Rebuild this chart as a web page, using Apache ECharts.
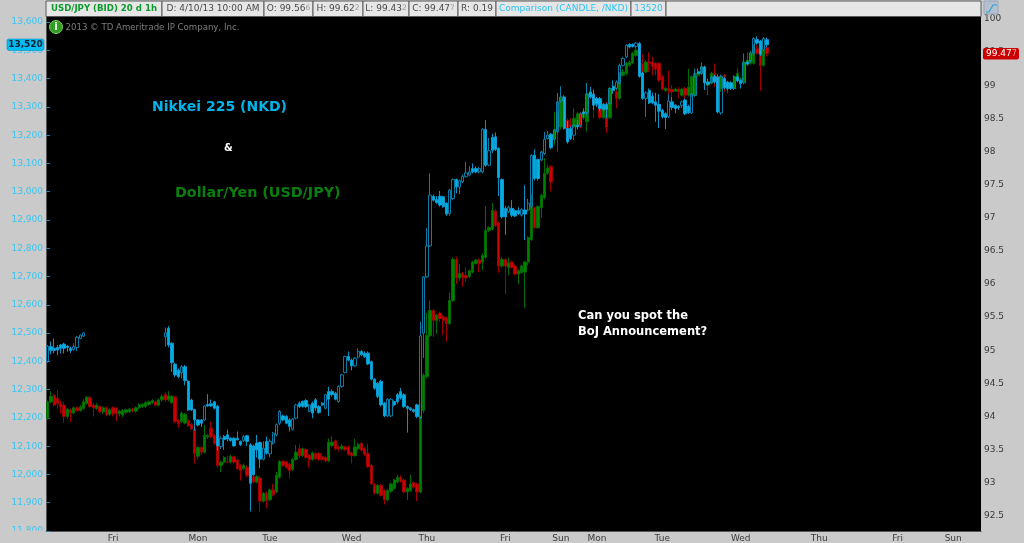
<!DOCTYPE html>
<html><head><meta charset="utf-8">
<style>html,body{margin:0;padding:0;background:#cacaca}#c{width:1024px;height:543px}</style>
<script src="https://cdn.jsdelivr.net/npm/echarts@6/dist/echarts.min.js"></script>
</head><body><div id="c"></div>
<script>
// [open, close, low, high]
const usdJpyCandles = [
[93.97,94.22,93.95,94.24],[94.22,94.30,94.20,94.38],[94.32,94.17,94.15,94.34],[94.27,94.19,94.12,94.40],[94.20,94.14,94.04,94.24],[94.17,94.00,93.90,94.22],[94.00,94.11,93.97,94.13],[94.10,94.05,93.92,94.12],[94.05,94.13,94.03,94.15],[94.13,94.09,94.07,94.15],
[94.09,94.14,94.07,94.17],[94.12,94.22,94.10,94.26],[94.20,94.29,94.18,94.31],[94.28,94.15,94.13,94.31],[94.17,94.13,94.00,94.20],[94.12,94.17,94.10,94.20],[94.15,94.07,94.05,94.17],[94.07,94.13,94.04,94.15],[94.13,94.03,94.00,94.15],[94.03,94.10,94.01,94.12],
[94.13,94.04,94.00,94.15],[94.12,94.04,93.93,94.14],[94.04,94.08,94.00,94.10],[94.02,94.09,93.99,94.11],[94.06,94.10,94.04,94.12],[94.07,94.11,94.05,94.13],[94.11,94.08,94.06,94.13],[94.08,94.13,94.06,94.15],[94.13,94.18,94.11,94.20],[94.15,94.18,94.13,94.20],
[94.15,94.21,94.13,94.23],[94.18,94.22,94.16,94.24],[94.21,94.24,94.19,94.26],[94.22,94.17,94.15,94.24],[94.17,94.25,94.15,94.27],[94.25,94.30,94.23,94.33],[94.33,94.25,94.22,94.36],[94.25,94.31,94.23,94.38],[94.21,94.30,94.19,94.32],[94.29,93.92,93.90,94.31],
[93.94,93.89,93.83,93.96],[93.92,94.05,93.90,94.07],[93.90,94.03,93.88,94.05],[93.94,93.86,93.84,93.97],[93.88,93.81,93.79,93.90],[93.81,93.44,93.29,93.84],[93.40,93.53,93.36,93.55],[93.53,93.46,93.42,93.55],[93.46,93.71,93.44,93.87],[93.69,93.71,93.66,93.73],
[93.82,93.69,93.67,93.92],[93.71,93.59,93.57,93.73],[93.56,93.26,93.22,93.58],[93.26,93.31,93.16,93.33],[93.31,93.38,93.29,93.40],[93.31,93.31,93.29,93.40],[93.31,93.40,93.29,93.42],[93.39,93.31,93.29,93.41],[93.34,93.21,93.19,93.36],[93.26,93.18,93.03,93.28],
[93.21,93.26,93.19,93.29],[93.23,93.11,93.08,93.26],[93.19,93.06,93.04,93.21],[93.09,93.01,92.99,93.11],[93.01,93.09,92.99,93.11],[93.07,92.72,92.56,93.09],[92.72,92.84,92.70,92.86],[92.84,92.73,92.61,92.87],[92.74,92.89,92.72,92.91],[92.89,92.82,92.79,92.98],
[92.86,93.11,92.84,93.16],[93.08,93.32,93.06,93.34],[93.32,93.26,93.24,93.34],[93.31,93.23,93.21,93.33],[93.28,93.18,93.06,93.30],[93.20,93.35,93.18,93.37],[93.35,93.46,93.33,93.57],[93.51,93.41,93.37,93.58],[93.41,93.51,93.39,93.53],[93.50,93.38,93.36,93.52],
[93.41,93.35,93.23,93.43],[93.35,93.45,93.33,93.47],[93.44,93.36,93.34,93.46],[93.44,93.35,93.33,93.46],[93.39,93.35,93.33,93.44],[93.38,93.33,93.31,93.40],[93.33,93.61,93.31,93.67],[93.56,93.61,93.54,93.70],[93.63,93.51,93.49,93.65],[93.54,93.51,93.47,93.56],
[93.51,93.55,93.49,93.58],[93.54,93.50,93.48,93.56],[93.54,93.43,93.41,93.56],[93.45,93.41,93.29,93.47],[93.41,93.54,93.39,93.66],[93.51,93.58,93.49,93.60],[93.59,93.49,93.47,93.61],[93.51,93.43,93.40,93.53],[93.44,93.24,93.22,93.59],[93.26,92.98,92.96,93.28],
[92.97,92.84,92.82,92.99],[92.84,92.96,92.82,92.98],[92.96,92.81,92.79,92.98],[92.88,92.74,92.67,92.90],[92.74,92.88,92.72,92.90],[92.87,92.98,92.85,93.00],[92.91,93.04,92.89,93.06],[93.01,93.08,92.99,93.12],[93.08,93.02,93.00,93.11],[93.04,92.86,92.84,93.06],
[92.86,92.91,92.74,92.93],[92.88,92.98,92.86,93.12],[93.00,92.93,92.91,93.02],[92.98,92.86,92.72,93.00],[92.86,93.99,92.84,94.01],[94.09,94.62,94.05,94.65],[94.60,95.22,94.57,95.56],[95.22,95.60,95.20,95.75],[95.60,95.45,95.20,95.62],[95.45,95.53,95.25,95.55],
[95.56,95.48,95.43,95.58],[95.50,95.45,95.23,95.53],[95.49,95.40,95.13,95.51],[95.40,95.75,95.38,95.87],[95.75,96.37,95.73,96.40],[96.37,96.09,96.00,96.41],[96.09,96.16,96.05,96.30],[96.16,96.10,95.96,96.18],[96.13,96.09,96.03,96.25],[96.11,96.20,96.09,96.22],
[96.18,96.33,96.16,96.35],[96.31,96.36,96.29,96.38],[96.36,96.31,96.18,96.38],[96.33,96.43,96.21,96.46],[96.40,96.81,96.38,97.17],[96.81,96.85,96.78,96.87],[96.83,97.11,96.81,97.22],[97.10,96.88,96.86,97.13],[96.92,96.27,96.17,96.94],[96.27,96.37,96.25,96.40],
[96.37,96.27,95.84,96.39],[96.25,96.32,96.13,96.40],[96.33,96.25,96.23,96.35],[96.27,96.15,96.13,96.29],[96.15,96.20,96.00,96.22],[96.17,96.27,96.15,96.29],[96.18,96.33,95.64,96.35],[96.33,96.70,96.28,96.72],[96.67,97.16,96.65,97.35],[97.15,96.85,96.83,97.17],
[96.85,97.17,96.83,97.19],[97.15,97.34,97.00,97.36],[97.30,97.67,97.28,97.90],[97.67,97.75,97.65,97.80],[97.77,97.54,97.40,97.79],[98.20,98.33,98.10,98.60],[98.32,98.59,97.99,98.76],[98.37,98.82,98.33,98.85],[98.82,98.47,98.45,98.85],[98.47,98.35,98.30,98.50],
[98.40,98.37,98.30,98.50],[98.37,98.50,98.35,98.65],[98.40,98.57,98.38,98.60],[98.57,98.37,98.35,98.60],[98.51,98.60,98.48,98.65],[98.45,98.87,98.30,98.95],[98.82,98.87,98.80,98.92],[98.87,98.70,98.50,98.95],[98.70,98.80,98.68,98.82],[98.67,98.51,98.49,98.69],
[98.51,98.65,98.49,98.67],[98.62,98.37,98.28,98.75],[98.51,98.95,98.49,98.97],[98.92,98.97,98.90,98.99],[98.90,98.80,98.65,98.97],[98.80,99.18,98.78,99.20],[99.15,99.20,99.13,99.25],[99.18,99.33,99.15,99.35],[99.30,99.35,99.28,99.38],[99.34,99.48,99.32,99.50],
[99.45,99.53,99.43,99.60],[99.62,99.20,99.13,99.66],[99.33,99.20,99.15,99.47],[99.20,99.35,99.18,99.38],[99.35,99.33,99.20,99.50],[99.35,99.28,99.15,99.43],[99.33,99.24,99.15,99.35],[99.33,99.08,99.05,99.35],[99.13,98.94,98.92,99.15],[98.92,98.95,98.90,98.97],
[98.95,98.92,98.80,99.22],[98.94,98.90,98.80,99.00],[98.91,98.94,98.90,98.96],[98.94,98.90,98.80,98.97],[98.85,98.94,98.83,98.96],[98.95,98.85,98.77,98.97],[98.85,98.97,98.83,99.25],[98.85,99.13,98.83,99.15],[98.85,99.18,98.83,99.20],[99.15,99.20,99.13,99.25],
[99.18,99.28,99.16,99.35],[99.28,99.05,99.00,99.30],[99.00,99.05,98.85,99.07],[99.03,99.18,99.01,99.20],[99.18,99.05,98.97,99.33],[99.13,98.95,98.93,99.18],[98.95,99.13,98.90,99.15],[99.15,98.97,98.90,99.17],[98.95,99.03,98.88,99.05],[98.97,99.04,98.95,99.06],
[98.95,99.13,98.93,99.15],[99.10,99.18,99.08,99.25],[99.08,99.10,99.06,99.12],[99.05,99.35,99.03,99.40],[99.33,99.38,99.31,99.50],[99.33,99.48,99.31,99.52],[99.33,99.60,99.31,99.62],[99.55,99.48,99.46,99.70],[99.50,99.30,98.92,99.52],[99.30,99.53,99.28,99.55],
[99.57,99.48,99.43,99.62]
];
const nkdCandlesBeforeGap = [
[12399,12454,12395,12458],[12452,12438,12425,12470],[12446,12438,12428,12481],[12449,12440,12422,12458],[12458,12446,12428,12461],[12461,12446,12428,12466],[12454,12449,12434,12458],[12446,12438,12430,12452],[12442,12452,12438,12464],[12449,12485,12436,12490],[12481,12493,12478,12495],[12489,12501,12487,12503]
];
const nkdGapBars = 24;
const nkdCandlesAfterGap = [
[12487,12501,12452,12520],[12517,12458,12450,12525],[12464,12395,12363,12468],[12390,12352,12345,12395],[12369,12346,12340,12375],[12360,12381,12340,12387],[12381,12332,12315,12387],[12330,12228,12225,12335],[12263,12228,12225,12268],[12230,12193,12155,12232],
[12193,12175,12170,12195],[12193,12181,12168,12195],[12193,12242,12190,12245],[12247,12242,12240,12284],[12250,12242,12240,12265],[12257,12234,12230,12260],[12242,12101,12085,12245],[12099,12128,12090,12135],[12134,12123,12087,12140],[12140,12125,12117,12158],
[12128,12120,12117,12132],[12128,12101,12098,12132],[12128,12123,12120,12152],[12117,12105,12101,12120],[12120,12134,12115,12140],[12137,12117,12101,12140],[12105,11969,11869,12110],[12101,11999,11995,12105],[12111,12087,12060,12140],[12113,12054,12022,12117],
[12054,12093,12050,12117],[12117,12075,12070,12134],[12073,12117,12060,12125],[12111,12146,12105,12150],[12140,12176,12135,12180],[12181,12223,12175,12228],[12207,12193,12188,12212],[12205,12181,12177,12210],[12193,12170,12152,12199],[12160,12196,12155,12200],
[12199,12246,12195,12250],[12252,12240,12235,12258],[12258,12240,12237,12262],[12262,12240,12235,12266],[12223,12246,12220,12250],[12252,12217,12199,12258],[12264,12235,12225,12270],[12240,12219,12215,12245],[12252,12246,12243,12255],[12234,12282,12230,12285],
[12293,12266,12207,12310],[12293,12282,12275,12300],[12287,12266,12262,12292],[12258,12311,12254,12315],[12311,12352,12307,12356],[12361,12417,12357,12420],[12417,12405,12400,12435],[12405,12384,12368,12410],[12384,12411,12380,12416],[12415,12435,12411,12446],
[12435,12423,12418,12440],[12429,12417,12412,12435],[12429,12391,12387,12435],[12399,12337,12333,12403],[12337,12305,12300,12340],[12323,12276,12270,12327],[12329,12246,12240,12335],[12252,12207,12203,12256],[12207,12266,12203,12270],[12207,12266,12203,12270],
[12258,12246,12240,12262],[12282,12258,12250,12288],[12293,12270,12265,12305],[12282,12240,12235,12287],[12240,12234,12148,12244],[12234,12229,12225,12238],[12229,12223,12218,12233],[12246,12205,12199,12250],[12200,12490,12195,12540],[12500,12699,12412,12702],
[12699,12808,12695,12872],[12808,12988,12805,13065],[12984,12970,12965,12990],[12973,12961,12958,12985],[12984,12953,12947,13003],[12982,12947,12943,12986],[12959,12921,12915,12963],[12923,13006,12915,13010],[12976,13043,12970,13047],[13043,13017,12995,13047],
[13017,13039,12992,13043],[13035,13055,13030,13060],[13053,13067,13050,13106],[13059,13070,13055,13090],[13082,13070,13065,13100],[13082,13070,13065,13090],[13070,13082,13065,13088],[13070,13220,13065,13225],[13220,13094,13088,13253],[13094,13145,13090,13190],
[13192,13147,13137,13205],[13194,13149,13144,13210],[13153,13050,12985,13157],[13043,12911,12905,13047],[12941,12911,12847,12950],[12929,12944,12925,12950],[12941,12917,12910,12970],[12933,12914,12910,12938],[12933,12923,12918,12945],[12917,12937,12912,12942],
[12935,12921,12829,13023],[12935,12959,12930,12975],[12947,13129,12941,13133],[13129,13047,13040,13150],[13114,13047,13040,13118],[13112,13141,13108,13145],[13135,13185,13130,13212],[13188,13200,13185,13215],[13203,13156,13150,13208],[13185,13218,13180,13222],
[13212,13318,13205,13350],[13321,13335,13316,13373],[13335,13224,13220,13340],[13224,13176,13170,13250],[13224,13188,13183,13230],[13200,13235,13182,13240],[13235,13229,13220,13253],[13235,13276,13230,13280],[13282,13276,13262,13294],[13279,13345,13270,13385],
[13353,13335,13330,13371],[13345,13306,13290,13360],[13329,13312,13300,13335],[13329,13294,13285,13335],[13309,13291,13286,13314],[13309,13291,13259,13314],[13312,13365,13307,13370],[13373,13359,13347,13394],[13365,13388,13360,13394],[13383,13447,13378,13453],
[13447,13471,13443,13476],[13477,13518,13473,13522],[13521,13512,13507,13525],[13521,13514,13510,13525],[13514,13526,13510,13530],[13524,13408,13403,13528],[13420,13330,13325,13424],[13330,13350,13265,13355],[13359,13314,13310,13365],[13338,13314,13310,13350],
[13318,13306,13247,13350],[13309,13285,13225,13345],[13288,13265,13260,13293],[13276,13262,13222,13281],[13265,13321,13260,13345],[13318,13298,13289,13335],[13306,13294,13278,13310],[13302,13298,13290,13306],[13306,13318,13296,13322],[13324,13276,13271,13330],
[13302,13279,13275,13307],[13279,13345,13275,13350],[13341,13408,13336,13435],[13424,13418,13415,13435],[13418,13441,13414,13455],[13441,13385,13360,13445],[13388,13380,13376,13400],[13385,13406,13382,13412],[13408,13388,13383,13413],[13406,13282,13277,13414],
[13279,13408,13272,13414],[13400,13368,13362,13405],[13388,13365,13360,13392],[13385,13365,13360,13390],[13365,13406,13360,13410],[13406,13392,13387,13411],[13394,13382,13365,13397],[13385,13456,13380,13489],[13459,13451,13446,13464],[13463,13491,13458,13496],
[13489,13542,13484,13547],[13538,13526,13520,13550],[13533,13486,13480,13537],[13503,13542,13498,13547],[13538,13520,13510,13545]
];
const barSlots = 286;
const dayLabels = {20:'Fri',46:'Mon',68:'Tue',93:'Wed',116:'Thu',140:'Fri',157:'Sun',168:'Mon',188:'Tue',212:'Wed',236:'Thu',260:'Fri',277:'Sun'};
const nkdTicks = [11800,11900,12000,12100,12200,12300,12400,12500,12600,12700,12800,12900,13000,13100,13200,13300,13400,13500,13600];
const usdTicks = [92.5,93,93.5,94,94.5,95,95.5,96,96.5,97,97.5,98,98.5,99,99.5,100];
const headerCells = [
 {x:46,w:116,t:'USD/JPY (BID) 20 d 1h',c:'#0d9a2e',b:true},
 {x:162,w:102,t:'D: 4/10/13 10:00 AM'},
 {x:264,w:49,t:'O: 99.56',s:'6'},
 {x:313,w:50,t:'H: 99.62',s:'2'},
 {x:363,w:46,t:'L: 99.43',s:'2'},
 {x:409,w:49,t:'C: 99.47',s:'7'},
 {x:458,w:38,t:'R: 0.19'},
 {x:496,w:135,t:'Comparison (CANDLE, /NKD)',c:'#2cc4f4'},
 {x:631,w:35,t:'13520',c:'#2cc4f4'},
 {x:666,w:315,t:''}
];

const FONT='"DejaVu Sans",sans-serif';
const categories = Array.from({length:barSlots},(_,i)=>String(i));
const blank=['-','-','-','-'];
const nkdAll = nkdCandlesBeforeGap.concat(Array.from({length:nkdGapBars},()=>blank), nkdCandlesAfterGap);

const graphic=[];
headerCells.forEach(c=>{
  graphic.push({type:'rect',z:10,shape:{x:c.x,y:1,width:c.w,height:15.5},style:{fill:'#e6e6e6',stroke:'#5a5a5a',lineWidth:1}});
  if(c.t) graphic.push({type:'text',z:11,x:c.x+c.w/2,y:8.5,style:{
     text:c.s?`{a|${c.t}}{b|${c.s}}`:c.t,font:`${c.b?'bold 8.6px':'9px'} ${FONT}`,fill:c.c||'#4a4a4a',align:'center',verticalAlign:'middle',
     rich:{a:{font:`9px ${FONT}`,fill:'#4a4a4a'},b:{font:`7.5px ${FONT}`,fill:'#999'}}}});
});
// clip the lowest tick label as the time strip does
graphic.push({type:'rect',z:9,shape:{x:0,y:530.5,width:45.5,height:13},style:{fill:'#cacaca'}});
// info badge and copyright
graphic.push({type:'circle',z:10,shape:{cx:56,cy:27,r:6.5},style:{fill:'#2f9e22',stroke:'#7ccc66',lineWidth:1}});
graphic.push({type:'text',z:11,x:56,y:27.5,style:{text:'i',font:`bold 10px ${FONT}`,fill:'#fff',align:'center',verticalAlign:'middle'}});
graphic.push({type:'text',z:11,x:65.5,y:28,style:{text:'2013 © TD Ameritrade IP Company, Inc.',font:`8.6px ${FONT}`,fill:'#7d7d7d',verticalAlign:'middle'}});
// annotations
const note=(t,x,y,c,f)=>graphic.push({type:'text',z:12,x,y,style:{text:t,font:f,fill:c,verticalAlign:'middle'}});
note('Nikkei 225 (NKD)',152,107,'#00b4ea',`bold 14px ${FONT}`);
note('&',224,148,'#ffffff',`bold 10px ${FONT}`);
note('Dollar/Yen (USD/JPY)',175,193,'#0a7f10',`bold 14.3px ${FONT}`);
note('Can you spot the',578,316,'#ffffff',`bold 11.5px ${FONT}`);
note('BoJ Announcement?',578,332,'#ffffff',`bold 11.5px ${FONT}`);
// price tags
graphic.push({type:'rect',z:12,shape:{x:7,y:39,width:37,height:11.5,r:2},style:{fill:'#00bdf5',stroke:'#0090c0',lineWidth:.6}});
graphic.push({type:'text',z:13,x:25.5,y:45,style:{text:'13,520',font:`bold 9px ${FONT}`,fill:'#10202c',align:'center',verticalAlign:'middle'}});
graphic.push({type:'rect',z:12,shape:{x:983,y:48,width:36,height:11.5,r:2},style:{fill:'#cc0000'}});
graphic.push({type:'text',z:13,x:986,y:54,style:{text:'{a|99.47}{b|7}',font:`9px ${FONT}`,fill:'#fff',verticalAlign:'middle',rich:{a:{font:`9px ${FONT}`,fill:'#fff'},b:{font:`8px ${FONT}`,fill:'#e89a9a'}}}});
// study icon
graphic.push({type:'rect',z:12,shape:{x:984,y:1,width:14,height:13},style:{fill:'#b4c0cf',stroke:'#9aa8ba',lineWidth:1}});
graphic.push({type:'polyline',z:13,shape:{points:[[986,12],[989,12],[993,5],[997,5]]},style:{stroke:'#2e9fd0',lineWidth:1.2,fill:'none'}});

const chart=echarts.init(document.getElementById('c'),null,{renderer:'canvas'});
chart.setOption({
  animation:false,
  backgroundColor:'#cacaca',
  textStyle:{fontFamily:FONT},
  grid:{left:46,right:43,top:17,bottom:12,show:true,backgroundColor:'#000',borderWidth:0},
  xAxis:{type:'category',data:categories,boundaryGap:true,
    axisLine:{show:true,onZero:false,lineStyle:{color:'#555',width:1}},axisTick:{show:false},splitLine:{show:false},
    axisLabel:{color:'#3a3a3a',fontSize:9,fontFamily:FONT,margin:3,hideOverlap:false,
      interval:(i)=>dayLabels[i]!==undefined,formatter:(v,i)=>dayLabels[i]||''}},
  yAxis:[
   {type:'value',position:'left',min:11800,max:13618,scale:true,splitLine:{show:false},
    axisLine:{show:true,lineStyle:{color:'#555',width:1}},
    axisTick:{show:true,inside:true,length:4,lineStyle:{color:'#1d86ad'},customValues:nkdTicks},
    axisLabel:{color:'#3cc6f2',fontSize:9,fontFamily:FONT,margin:3,customValues:nkdTicks,
      formatter:(v)=>v.toLocaleString('en-US')}},
   {type:'value',position:'right',min:92.27,max:100.03,scale:true,splitLine:{show:false},
    axisLine:{show:false},axisTick:{show:false,customValues:usdTicks},
    axisLabel:{color:'#3a3a3a',fontSize:9,fontFamily:FONT,margin:3,customValues:usdTicks}}
  ],
  series:[
   {name:'USD/JPY',type:'candlestick',xAxisIndex:0,yAxisIndex:1,data:usdJpyCandles,barWidth:2.8,z:2,
    itemStyle:{color:'#008000',color0:'#cc0000',borderColor:'#006c00',borderColor0:'#a00000',borderWidth:1}},
   {name:'/NKD',type:'candlestick',xAxisIndex:0,yAxisIndex:0,data:nkdAll,barWidth:2.8,z:3,
    itemStyle:{color:'rgba(0,0,0,0)',color0:'#00bdf8',borderColor:'#0a86b4',borderColor0:'#0aa0d8',borderWidth:1,opacity:.92}}
  ],
  graphic:{elements:graphic}
});
</script></body></html>
